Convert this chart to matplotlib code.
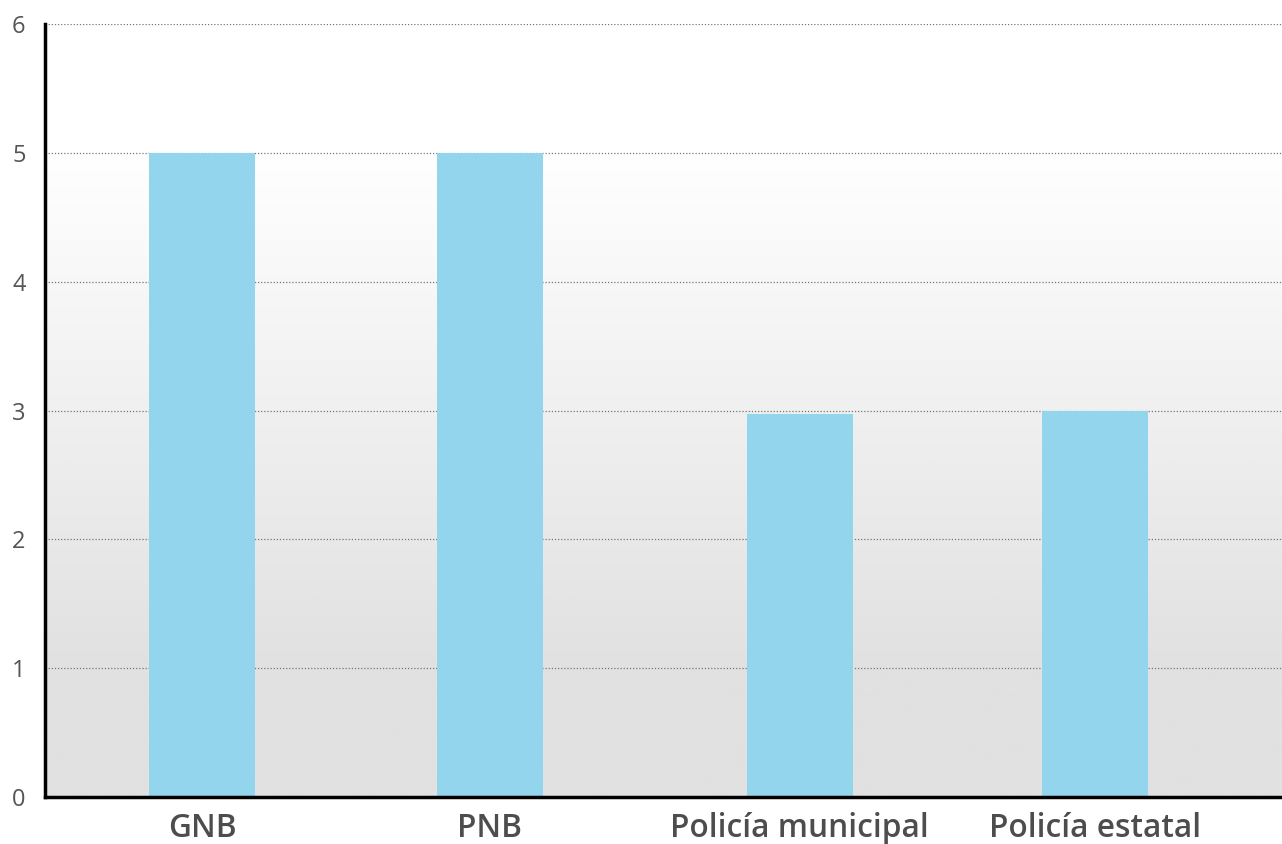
import numpy as np
import matplotlib.pyplot as plt
from matplotlib.colors import LinearSegmentedColormap

categories = ["GNB", "PNB", "Policía municipal", "Policía estatal"]
values = [5, 5, 2.97, 3]
yticks = [0, 1, 2, 3, 4, 5, 6]

# bar centres are not evenly spaced in the original
positions = [0, 1, 2.076, 3.101]
bar_width = 0.368

plt.rcParams["font.family"] = ["Open Sans", "DejaVu Sans"]

fig = plt.figure(figsize=(12.82, 8.44), dpi=100)
ax = fig.add_axes([45 / 1282, 1 - 797 / 844, 1 - 45 / 1282, (797 - 24) / 844])

xmin, xmax = -0.545, 3.75
ax.set_xlim(xmin, xmax)
ax.set_ylim(0, 6)

# background gradient: white above 5, fading to light gray near the bottom
cmap = LinearSegmentedColormap.from_list("bg", ["#e1e1e1", "#ffffff"])
ys = np.linspace(0, 6, 600)
shade = np.clip((ys - 1) / 4, 0, 1).reshape(-1, 1)
ax.imshow(shade, cmap=cmap, vmin=0, vmax=1, aspect="auto", origin="lower",
          extent=[xmin, xmax, 0, 6], zorder=0)

for y in yticks[1:]:
    ax.axhline(y, color="#777777", linestyle=(0, (1, 1.5)), linewidth=0.9, zorder=1)

ax.bar(positions, values, width=bar_width, color="#92d5ec", zorder=2)

for s in ["top", "right"]:
    ax.spines[s].set_visible(False)
for s in ["left", "bottom"]:
    ax.spines[s].set_linewidth(2.5)
    ax.spines[s].set_color("black")
    ax.spines[s].set_zorder(3)

ax.set_yticks(yticks)
ax.set_yticklabels([str(t) for t in yticks], fontsize=17, color="#555555")
ax.tick_params(axis="y", length=0, pad=14)
ax.set_xticks(positions)
ax.set_xticklabels(categories, fontsize=22.8, fontweight=600, color="#4d4d4d")
ax.tick_params(axis="x", length=0, pad=11)

fig.savefig("out.png", dpi=100)
